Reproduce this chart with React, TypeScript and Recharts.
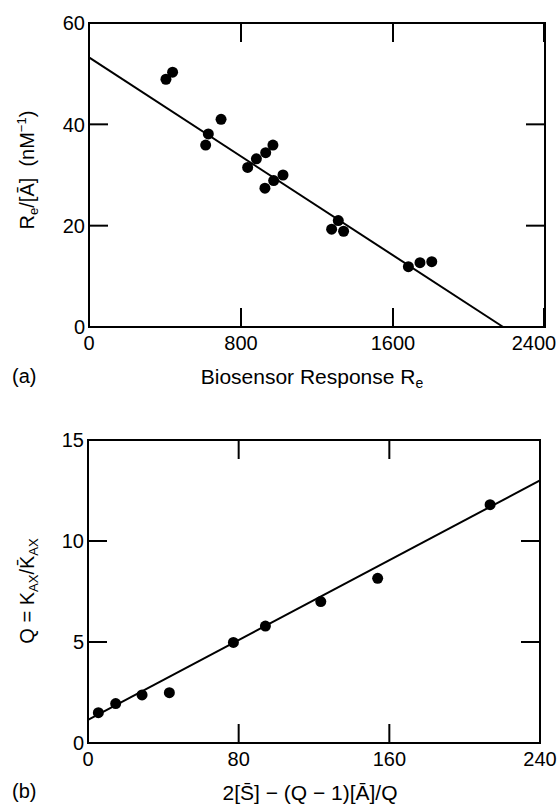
import { ComposedChart, Scatter, XAxis, YAxis, ReferenceArea } from "recharts";

// (a) Scatchard-type plot
const responseA = [405, 440, 695, 628, 614, 968, 930, 881, 835, 1021, 972, 926, 1312, 1277, 1340, 1681, 1742, 1804];
const ratioA = [48.9, 50.3, 41.0, 38.1, 35.9, 35.9, 34.4, 33.2, 31.5, 30.0, 28.9, 27.4, 21.0, 19.3, 18.9, 11.9, 12.7, 12.9];
const fitAx = [0, 2180];
const fitAy = [53.2, 0];
const ticksAx = [0, 800, 1600, 2400];
const ticksAy = [0, 20, 40, 60];

// (b) Q plot
const termB = [5.5, 14.7, 28.7, 43.2, 77.2, 94.2, 123.6, 153.8, 213.5];
const qB = [1.5, 1.95, 2.38, 2.49, 4.98, 5.79, 7.0, 8.15, 11.8];
const fitBx = [0, 240];
const fitBy = [1.15, 13.0];
const ticksBx = [0, 80, 160, 240];
const ticksBy = [0, 5, 10, 15];

const pointsA = responseA.map((x, i) => ({ x, y: ratioA[i] }));
const lineA = fitAx.map((x, i) => ({ x, y: fitAy[i] }));
const pointsB = termB.map((x, i) => ({ x, y: qB[i] }));
const lineB = fitBx.map((x, i) => ({ x, y: fitBy[i] }));

const ink = "#000";
const NBSP = "\u00A0";
const TICK = 19;

// plot boxes (svg-local px)
const boxA = { left: 89, right: 545, top: 23, bottom: 327 };
const boxB = { left: 88, right: 540, top: 40, bottom: 343 };

const Dot = (p: any) => <circle cx={p.cx} cy={p.cy} r={5.5} fill={ink} />;
const NoDot = () => <g />;

// bottom tick: label + inward marks on bottom and top edge
const xTick = (box: typeof boxA, last: number, shift: number) => (p: any) => {
  const v = p.payload.value;
  return (
    <g>
      <line x1={p.x} x2={p.x} y1={box.bottom} y2={box.bottom - TICK} stroke={ink} strokeWidth={2} />
      <line x1={p.x} x2={p.x} y1={box.top} y2={box.top + TICK} stroke={ink} strokeWidth={2} />
      <text x={p.x + (v === last ? shift : 0)} y={box.bottom + 9} dy="0.71em" textAnchor="middle" fontSize={20} fill={ink}>
        {v}
      </text>
    </g>
  );
};

// left tick: label + inward marks on left and right edge
const yTick = (box: typeof boxA) => (p: any) => {
  const v = p.payload.value;
  return (
    <g>
      <line x1={box.left} x2={box.left + TICK} y1={p.y} y2={p.y} stroke={ink} strokeWidth={2} />
      <line x1={box.right - TICK} x2={box.right} y1={p.y} y2={p.y} stroke={ink} strokeWidth={2} />
      <text x={box.left - 4} y={p.y} dy="0.36em" textAnchor="end" fontSize={20} fill={ink}>
        {v}
      </text>
    </g>
  );
};

const titlesA = () => (
  <g fontSize={20} fill={ink}>
    <text x={312} y={384} textAnchor="middle" fontSize={21}>
      Biosensor Response R<tspan fontSize={14} dy={4}>e</tspan>
    </text>
    <text x={12} y={383}>(a)</text>
    <text transform="rotate(-90 34 170)" x={34} y={170} textAnchor="middle">
      R<tspan fontSize={13} dy={4}>e</tspan>
      <tspan dy={-4}>{`/[Ā]${NBSP}${NBSP}(nM`}</tspan>
      <tspan fontSize={13} dy={-8}>−1</tspan>
      <tspan dy={8}>)</tspan>
    </text>
  </g>
);

const titlesB = () => (
  <g fontSize={20} fill={ink}>
    <text x={310} y={400} textAnchor="middle" fontSize={21}>
      {`2[S\u0304] − (Q − 1)[Ā]/Q`}
    </text>
    <text x={12} y={398}>(b)</text>
    <text transform="rotate(-90 34 191)" x={34} y={191} textAnchor="middle">
      Q = K<tspan fontSize={13} dy={4}>AX</tspan>
      <tspan dy={-4}>{`/K\u0304`}</tspan>
      <tspan fontSize={13} dy={4}>AX</tspan>
    </text>
  </g>
);

export default function App() {
  return (
    <div
      style={{
        position: "absolute",
        left: 0,
        top: 0,
        width: 560,
        height: 805,
        background: "#fff",
        fontFamily: "'Liberation Sans', Arial, sans-serif",
      }}
    >
      <ComposedChart width={560} height={400} margin={{ top: 23, right: 15, bottom: 0, left: 0 }}>
        <XAxis
          type="number"
          dataKey="x"
          domain={[0, 2400]}
          ticks={ticksAx}
          height={73}
          axisLine={false}
          tickLine={false}
          tick={xTick(boxA, 2400, -10)}
          label={titlesA}
        />
        <YAxis
          type="number"
          dataKey="y"
          domain={[0, 60]}
          ticks={ticksAy}
          width={89}
          axisLine={false}
          tickLine={false}
          tick={yTick(boxA)}
        />
        <ReferenceArea x1={0} x2={2400} y1={0} y2={60} fill="none" stroke={ink} strokeWidth={2} />
        <Scatter data={lineA} line={{ stroke: ink, strokeWidth: 2 }} shape={NoDot} isAnimationActive={false} />
        <Scatter data={pointsA} shape={Dot} isAnimationActive={false} />
      </ComposedChart>

      <ComposedChart width={560} height={405} margin={{ top: 40, right: 20, bottom: 0, left: 0 }}>
        <XAxis
          type="number"
          dataKey="x"
          domain={[0, 240]}
          ticks={ticksBx}
          height={62}
          axisLine={false}
          tickLine={false}
          tick={xTick(boxB, 240, 0)}
          label={titlesB}
        />
        <YAxis
          type="number"
          dataKey="y"
          domain={[0, 15]}
          ticks={ticksBy}
          width={88}
          axisLine={false}
          tickLine={false}
          tick={yTick(boxB)}
        />
        <ReferenceArea x1={0} x2={240} y1={0} y2={15} fill="none" stroke={ink} strokeWidth={2} />
        <Scatter data={lineB} line={{ stroke: ink, strokeWidth: 2 }} shape={NoDot} isAnimationActive={false} />
        <Scatter data={pointsB} shape={Dot} isAnimationActive={false} />
      </ComposedChart>
    </div>
  );
}
